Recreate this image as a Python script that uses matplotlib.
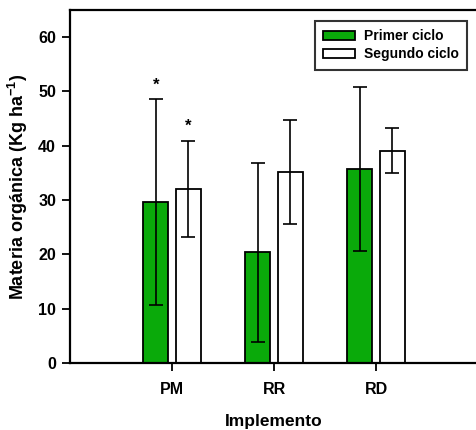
import numpy as np
import matplotlib
matplotlib.use('Agg')
import matplotlib.pyplot as plt

implementos = ['PM', 'RR', 'RD']
primer = [29.6, 20.4, 35.7]
primer_err = [19.0, 16.5, 15.1]
segundo = [32.1, 35.2, 39.1]
segundo_err = [8.85, 9.6, 4.2]
marcas_primer = ['*', '', '']
marcas_segundo = ['*', '', '']

plt.rcParams['font.family'] = ['Liberation Sans', 'DejaVu Sans']
plt.rcParams['font.weight'] = 'bold'
plt.rcParams['mathtext.fontset'] = 'custom'
plt.rcParams['mathtext.bf'] = 'Liberation Sans:bold'

fig = plt.figure(figsize=(4.76, 4.30), dpi=100)
ax = fig.add_axes([70/476, 1 - 363/430, 408/476, 353/430])

x = np.arange(1, len(implementos) + 1)
w = 0.25
off = 0.16
ekw = dict(ecolor='black', elinewidth=1.2, capsize=5, capthick=1.2)
ax.bar(x - off, primer, w, color='#0aaa0a', edgecolor='black', linewidth=1.3,
       yerr=primer_err, error_kw=ekw, label='Primer ciclo')
ax.bar(x + off, segundo, w, color='white', edgecolor='black', linewidth=1.3,
       yerr=segundo_err, error_kw=ekw, label='Segundo ciclo')

for i in range(len(implementos)):
    if marcas_primer[i]:
        ax.text(x[i] - off, primer[i] + primer_err[i] + 1.2, marcas_primer[i],
                ha='center', va='bottom', fontsize=12)
    if marcas_segundo[i]:
        ax.text(x[i] + off, segundo[i] + segundo_err[i] + 1.2, marcas_segundo[i],
                ha='center', va='bottom', fontsize=12)

ax.set_xlim(0, 4)
ax.set_ylim(0, 65)
ax.set_xticks(x)
ax.set_xticklabels(implementos)
ax.set_yticks(range(0, 61, 10))
ax.tick_params(direction='out', length=6, width=1.3, labelsize=11.5, pad=4)
ax.tick_params(axis='x', pad=8)
for s in ax.spines.values():
    s.set_linewidth(1.6)

ax.set_xlabel('Implemento', fontsize=12.5, fontweight='bold', labelpad=12)
ax.set_ylabel('Materia orgánica (Kg ha$^{\\mathbf{-1}}$)', fontsize=13, fontweight='bold', labelpad=6)

leg = ax.legend(loc='upper left', bbox_to_anchor=(245/408, 1 - 11/353), fontsize=10,
                frameon=True, fancybox=False, edgecolor='black', borderaxespad=0,
                handlelength=2.3, handleheight=0.6, borderpad=0.6, labelspacing=0.3,
                handletextpad=0.6)
leg.get_frame().set_linewidth(1.5)

plt.savefig('out.png', dpi=100)
